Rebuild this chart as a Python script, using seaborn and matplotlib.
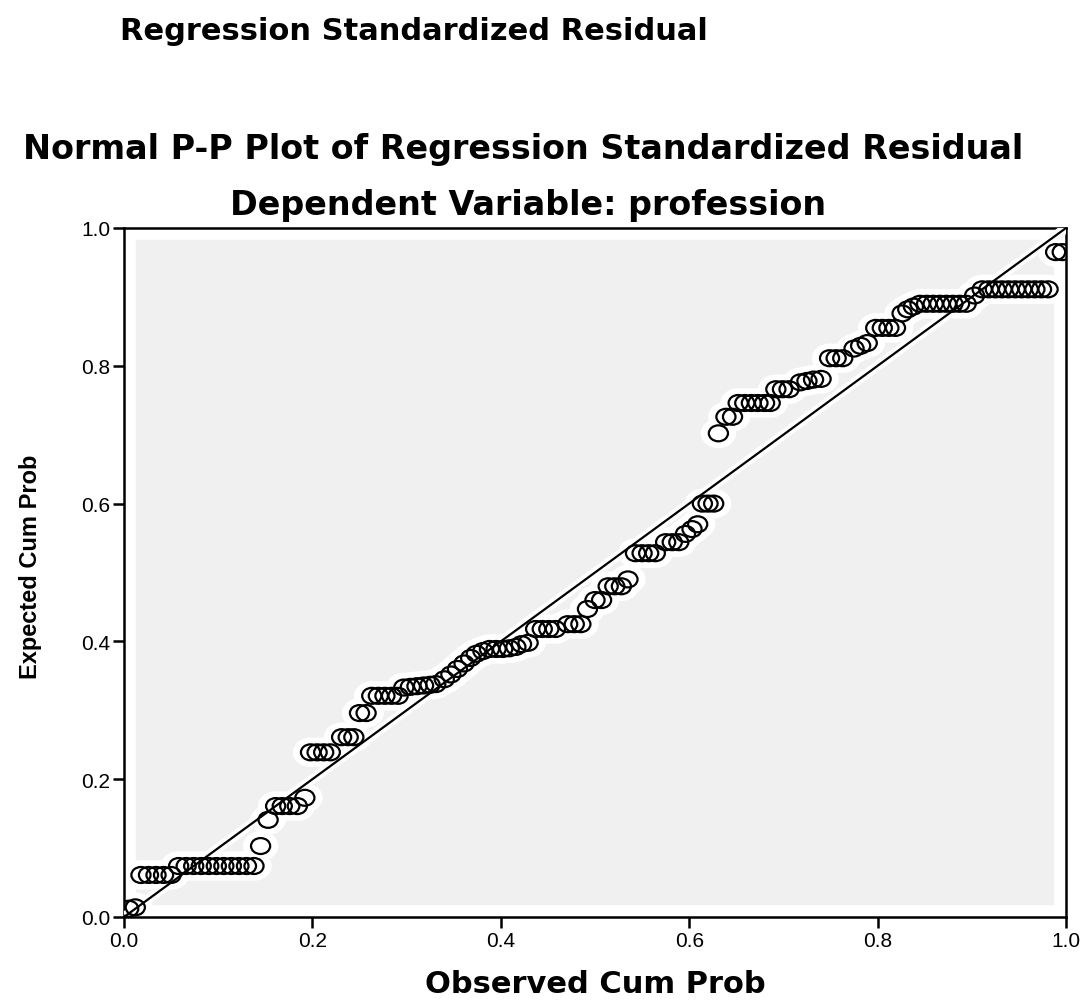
import matplotlib
matplotlib.use("Agg")
import numpy as np
import pandas as pd
import matplotlib.pyplot as plt
import seaborn as sns
from matplotlib import patheffects as pe
from matplotlib.path import Path
from matplotlib.patches import Rectangle
from matplotlib.transforms import Affine2D
from matplotlib import font_manager

# ---------------- data ----------------
observed_cum_prob = [
    0.005, 0.012,
    0.018, 0.026, 0.034, 0.042, 0.050,
    0.058, 0.066, 0.074, 0.082, 0.090, 0.098, 0.106, 0.114, 0.122, 0.130, 0.138,
    0.145, 0.153,
    0.161, 0.168, 0.176, 0.184,
    0.192,
    0.198, 0.205, 0.212, 0.219,
    0.231, 0.238, 0.244,
    0.250, 0.257,
    0.263, 0.270, 0.277, 0.284, 0.291,
    0.297, 0.304, 0.311, 0.318, 0.325, 0.331,
    0.340, 0.347, 0.354, 0.361, 0.368, 0.374,
    0.381, 0.388, 0.395, 0.402, 0.409, 0.416, 0.422, 0.429,
    0.437, 0.444, 0.451, 0.458,
    0.471, 0.478, 0.485,
    0.492,
    0.500, 0.507,
    0.514, 0.521, 0.528, 0.535,
    0.543, 0.550, 0.557, 0.564,
    0.575, 0.582, 0.589,
    0.596, 0.603, 0.609,
    0.614, 0.620, 0.626,
    0.631,
    0.639, 0.646,
    0.652, 0.659, 0.666, 0.673, 0.680, 0.686,
    0.692, 0.699, 0.706,
    0.718, 0.725, 0.732, 0.740,
    0.749, 0.756, 0.763,
    0.775, 0.782, 0.789,
    0.798, 0.805, 0.812, 0.819,
    0.826, 0.832, 0.838,
    0.845, 0.852, 0.859, 0.866, 0.873, 0.880, 0.887, 0.894,
    0.903, 0.911, 0.918, 0.925, 0.932, 0.939, 0.946, 0.953, 0.960, 0.967, 0.974, 0.981,
    0.989, 0.996,
]
expected_cum_prob = [
    0.012, 0.014,
    0.061, 0.061, 0.061, 0.061, 0.061,
    0.074, 0.074, 0.074, 0.074, 0.074, 0.074, 0.074, 0.074, 0.074, 0.074, 0.074,
    0.103, 0.141,
    0.161, 0.161, 0.161, 0.161,
    0.173,
    0.239, 0.239, 0.239, 0.239,
    0.261, 0.261, 0.261,
    0.296, 0.296,
    0.321, 0.321, 0.321, 0.321, 0.321,
    0.333, 0.334, 0.335, 0.336, 0.337, 0.338,
    0.345, 0.352, 0.360, 0.368, 0.376, 0.382,
    0.386, 0.389, 0.389, 0.389, 0.390, 0.392, 0.396, 0.398,
    0.418, 0.418, 0.418, 0.418,
    0.425, 0.425, 0.425,
    0.447,
    0.460, 0.460,
    0.480, 0.480, 0.480, 0.490,
    0.528, 0.528, 0.528, 0.528,
    0.544, 0.544, 0.544,
    0.556, 0.563, 0.570,
    0.600, 0.600, 0.600,
    0.702,
    0.726, 0.726,
    0.746, 0.746, 0.746, 0.746, 0.746, 0.746,
    0.766, 0.766, 0.766,
    0.776, 0.778, 0.780, 0.781,
    0.811, 0.811, 0.811,
    0.825, 0.829, 0.833,
    0.855, 0.855, 0.855, 0.855,
    0.876, 0.882, 0.886,
    0.890, 0.890, 0.890, 0.890, 0.890, 0.890, 0.890, 0.890,
    0.902, 0.911, 0.911, 0.911, 0.911, 0.911, 0.911, 0.911, 0.911, 0.911, 0.911, 0.911,
    0.965, 0.965,
]
tick_values = [0.0, 0.2, 0.4, 0.6, 0.8, 1.0]
tick_labels = ["0.0", "0.2", "0.4", "0.6", "0.8", "1.0"]

header_text = "Regression Standardized Residual"
title_text = "Normal P-P Plot of Regression Standardized Residual"
subtitle_text = "Dependent Variable: profession"
x_label = "Observed Cum Prob"
y_label = "Expected Cum Prob"

# ---------------- styling ----------------
sns.set_theme(style="white")
plt.rcParams["font.family"] = ["Liberation Sans", "DejaVu Sans"]
plt.rcParams["text.color"] = "black"
plt.rcParams["axes.labelcolor"] = "black"
plt.rcParams["xtick.color"] = "black"
plt.rcParams["ytick.color"] = "black"
plt.rcParams["xtick.bottom"] = True
plt.rcParams["ytick.left"] = True
plt.rcParams["xtick.major.size"] = 8
plt.rcParams["ytick.major.size"] = 8
plt.rcParams["xtick.major.width"] = 1.8
plt.rcParams["ytick.major.width"] = 1.8

names = {f.name for f in font_manager.fontManager.ttflist}
narrow_ok = "Liberation Sans Narrow" in names

W, H = 1087, 1003
fig = plt.figure(figsize=(W / 100, H / 100), dpi=100)
ax_left, ax_right, ax_top, ax_bottom = 124, 1066, 229, 918
ax = fig.add_axes([ax_left / W, 1 - ax_bottom / H,
                   (ax_right - ax_left) / W, (ax_bottom - ax_top) / H])
ax.set_facecolor("#f0f0f0")

# white inner margin of the plotting area (clipped to the axes)
ax.add_patch(Rectangle((0, 0), 1, 1, transform=ax.transAxes, fill=False,
                       edgecolor="white", linewidth=17, clip_on=True, zorder=1))

df = pd.DataFrame({"observed": observed_cum_prob, "expected": expected_cum_prob})

ellipse = Path.unit_circle().transformed(Affine2D().scale(1.2, 1.0))

# white glow behind the points
sns.scatterplot(data=df, x="observed", y="expected", ax=ax, marker=ellipse,
                s=650, color="white", edgecolor="none", linewidth=0,
                zorder=2.2, legend=False)

# reference diagonal
ax.axline((tick_values[0], tick_values[0]), slope=1, color="black", lw=1.6,
          zorder=3,
          path_effects=[pe.Stroke(linewidth=7, foreground="white"), pe.Normal()])

# open circles
sns.scatterplot(data=df, x="observed", y="expected", ax=ax, marker=ellipse,
                s=190, facecolor="none", edgecolor="black", linewidth=1.6,
                zorder=4, legend=False)

ax.set_xlim(tick_values[0], tick_values[-1])
ax.set_ylim(tick_values[0], tick_values[-1])
ax.set_xticks(tick_values)
ax.set_xticklabels(tick_labels)
ax.set_yticks(tick_values)
ax.set_yticklabels(tick_labels)
ax.tick_params(axis="both", which="major", direction="out", length=8, width=1.8,
               color="black", labelsize=15, labelcolor="black", pad=2,
               bottom=True, left=True, top=False, right=False)

for sp in ax.spines.values():
    sp.set_visible(True)
    sp.set_color("black")
    sp.set_linewidth(1.8)

# axis labels
ax.set_xlabel(x_label, fontsize=22, fontweight="bold", family="DejaVu Sans")
ax.xaxis.set_label_coords(0.5, -(985 - ax_bottom) / (ax_bottom - ax_top))
ax.xaxis.label.set_va("center")
if narrow_ok:
    ax.set_ylabel(y_label, fontsize=22, fontweight="bold", family="Liberation Sans Narrow")
else:
    ax.set_ylabel(y_label, fontsize=17, fontweight="bold", family="Liberation Sans")
ax.yaxis.set_label_coords(-(ax_left - 30) / (ax_right - ax_left), 0.51)
ax.yaxis.label.set_va("center")

# titles
fig.text(414 / W, 1 - 32 / H, header_text, ha="center", va="center",
         fontsize=22, fontweight="bold", family="DejaVu Sans")
fig.text(523 / W, 1 - 150 / H, title_text, ha="center", va="center",
         fontsize=24, fontweight="bold", family="DejaVu Sans")
fig.text(528 / W, 1 - 205 / H, subtitle_text, ha="center", va="center",
         fontsize=24, fontweight="bold", family="DejaVu Sans")

fig.savefig("out.png", dpi=100, facecolor="white")
